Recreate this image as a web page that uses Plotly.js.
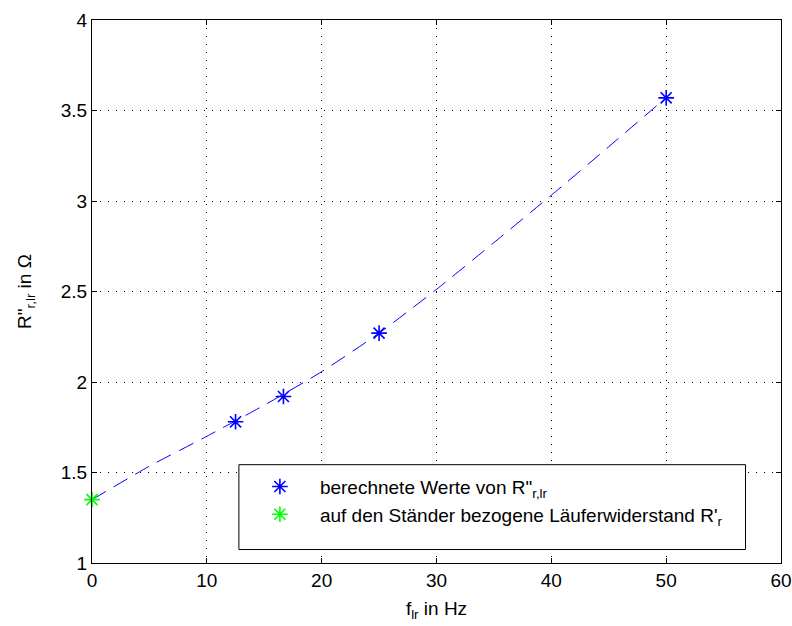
<!DOCTYPE html>
<html>
<head>
<meta charset="utf-8">
<script src="https://cdn.plot.ly/plotly-3.0.1.min.js"></script>
<style>
  html, body { margin: 0; padding: 0; background: #fff; }
  #chart { width: 792px; height: 626px; }
</style>
</head>
<body>
<div id="chart"></div>
<script>
// Rotor frequency f_lr in Hz and the computed resistances R''_r,lr in Ohm
const freqCalc = [12.5, 16.67, 25, 50];
const resCalc = [1.78, 1.92, 2.27, 3.57];

// Stator-referred rotor resistance R'_r (f_lr = 0)
const freqRef = [0];
const resRef = [1.35];

// Trend curve through the computed values
const freqCurve = [0, 5, 10, 15, 20, 25, 30, 35, 40, 45, 50];
const resCurve = [1.35, 1.535, 1.70, 1.872, 2.057, 2.27, 2.512, 2.77, 3.032, 3.30, 3.571];

// Axis ticks
const xTicks = [0, 10, 20, 30, 40, 50, 60];
const yTicks = [1, 1.5, 2, 2.5, 3, 3.5, 4];

const FONT = 'Liberation Sans, Arial, sans-serif';
const FS = 19;

const traces = [
  {
    x: freqCurve, y: resCurve,
    type: 'scatter', mode: 'lines',
    line: { color: '#0000ff', width: 1, dash: '16px,9px', shape: 'spline', smoothing: 0.6 },
    showlegend: false, hoverinfo: 'skip'
  },
  {
    x: freqCalc, y: resCalc,
    type: 'scatter', mode: 'markers',
    name: 'berechnete Werte von R"<sub>r,lr</sub>',
    legendgroup: 'calc',
    marker: { symbol: 'asterisk-open', size: 13, color: '#0000ff', line: { color: '#0000ff', width: 1.6 } }
  },
  {
    x: freqRef, y: resRef,
    type: 'scatter', mode: 'markers',
    name: "auf den Ständer bezogene Läuferwiderstand R'<sub>r</sub>",
    legendgroup: 'ref',
    marker: { symbol: 'asterisk-open', size: 13, color: '#00ff00', line: { color: '#00ff00', width: 1.6 } },
    cliponaxis: false
  }
];

const axisCommon = {
  showline: true, linecolor: '#000', linewidth: 1, mirror: 'ticks',
  ticks: 'inside', ticklen: 5, tickwidth: 1, tickcolor: '#000',
  showgrid: true, gridcolor: '#000', gridwidth: 1, griddash: '1px,7px',
  zeroline: false,
  tickfont: { family: FONT, size: FS, color: '#000' },
  fixedrange: true
};

const layout = {
  width: 792, height: 626,
  margin: { l: 92, r: 10.5, t: 19.5, b: 62.5 },
  paper_bgcolor: '#fff', plot_bgcolor: '#fff',
  font: { family: FONT, size: FS, color: '#000' },
  xaxis: Object.assign({}, axisCommon, {
    range: [0, 60], tickvals: xTicks, ticktext: xTicks.map(String),
    title: { text: 'f<sub>lr</sub> in Hz', font: { family: FONT, size: FS, color: '#000' }, standoff: 11 }
  }),
  yaxis: Object.assign({}, axisCommon, {
    range: [1, 4], tickvals: yTicks, ticktext: yTicks.map(String),
    title: { text: 'R"<sub>r,lr</sub> in Ω', font: { family: FONT, size: FS, color: '#000' }, standoff: 24 }
  }),
  // legend frame
  shapes: [{
    type: 'rect', xref: 'paper', yref: 'paper', layer: 'above',
    x0: (239 - 92) / 689.5, x1: (746 - 92) / 689.5,
    y0: (563.5 - 550) / 544, y1: (563.5 - 465) / 544,
    line: { color: '#000', width: 1 }, fillcolor: '#fff'
  }],
  showlegend: true,
  legend: {
    x: (240 - 92) / 689.5, y: (563.5 - 468) / 544, xanchor: 'left', yanchor: 'top',
    bgcolor: 'rgba(0,0,0,0)', borderwidth: 0,
    font: { family: FONT, size: FS, color: '#000' },
    itemwidth: 70, tracegroupgap: 10,
    traceorder: 'normal'
  }
};

Plotly.newPlot('chart', traces, layout, { displayModeBar: false, staticPlot: true });
</script>
</body>
</html>
